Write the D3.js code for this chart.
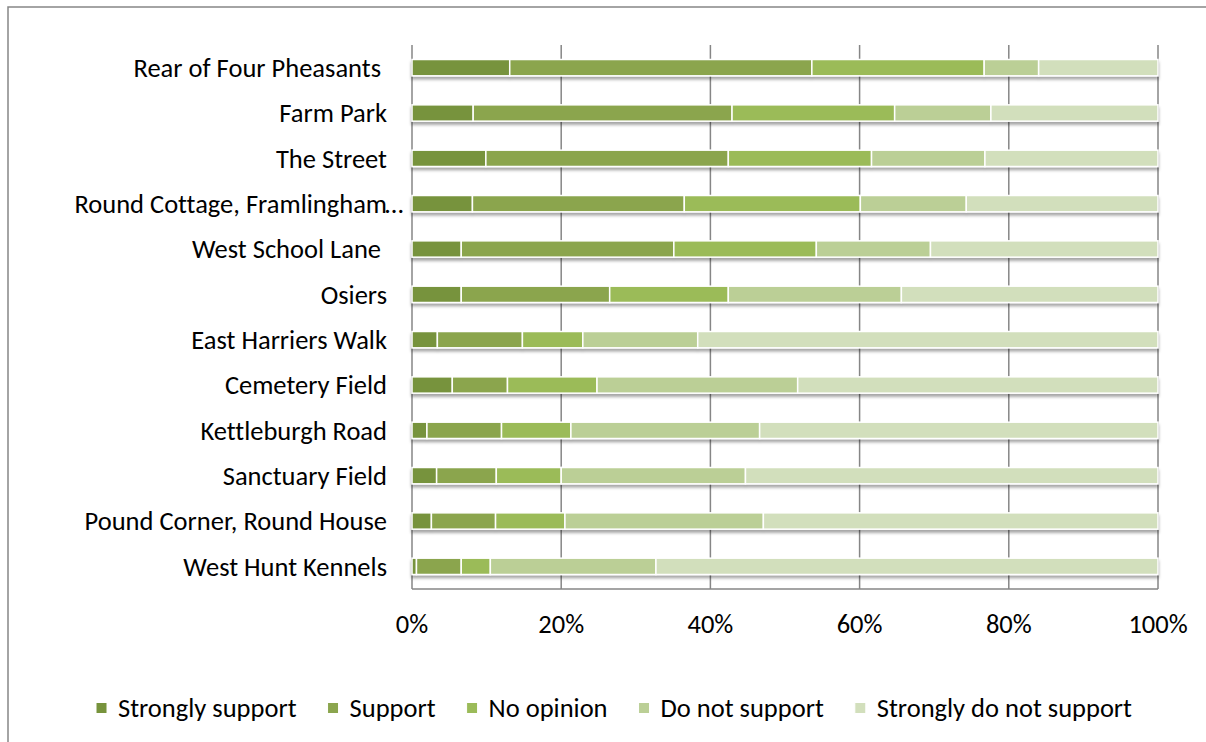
<!DOCTYPE html>
<html>
<head>
<meta charset="utf-8">
<script src="https://cdn.jsdelivr.net/npm/d3@7"></script>
<style>
  html, body { margin: 0; padding: 0; background: #fff; }
  svg { display: block; }
  text { font-family: Carlito, Calibri, Lato, sans-serif; fill: #000; font-variant-ligatures: none; }
</style>
</head>
<body>
<svg id="chart" width="1206" height="742"></svg>
<script>
// Survey responses per site, percent of respondents
const sites = [
  "Rear of Four Pheasants ",
  "Farm Park",
  "The Street",
  "Round Cottage, Framlingham…",
  "West School Lane ",
  "Osiers",
  "East Harriers Walk",
  "Cemetery Field",
  "Kettleburgh Road",
  "Sanctuary Field",
  "Pound Corner, Round House",
  "West Hunt Kennels"
];
const responses = ["Strongly support", "Support", "No opinion", "Do not support", "Strongly do not support"];
const stronglySupport    = [13.1,  8.2,  9.9,  8.1,  6.6,  6.6,  3.4,  5.4,  2.0,  3.3,  2.6,  0.6];
const support            = [40.5, 34.7, 32.5, 28.4, 28.5, 19.9, 11.4,  7.4, 10.0,  8.0,  8.6,  6.0];
const noOpinion          = [23.1, 21.8, 19.2, 23.6, 19.1, 15.9,  8.1, 12.0,  9.3,  8.7,  9.3,  3.9];
const doNotSupport       = [ 7.3, 12.9, 15.2, 14.2, 15.3, 23.2, 15.4, 26.9, 25.3, 24.7, 26.6, 22.2];
const stronglyNotSupport = [16.0, 22.4, 23.2, 25.7, 30.5, 34.4, 61.7, 48.3, 53.4, 55.3, 52.9, 67.3];
const tickValues = [0, 0.2, 0.4, 0.6, 0.8, 1.0];
const palette = ["#77933c", "#8ba54e", "#9bbb59", "#bbcf96", "#d2dfbc"];

const seriesValues = [stronglySupport, support, noOpinion, doNotSupport, stronglyNotSupport];
const rows = sites.map((site, i) => {
  const row = { site };
  responses.forEach((r, k) => { row[r] = seriesValues[k][i]; });
  return row;
});

const svg = d3.select("#chart");
const plot = { left: 412, right: 1158, top: 45, bottom: 589 };
const fontSize = 26.5;
const gridColor = "#868686";

// outer chart frame
svg.append("rect")
  .attr("x", 8).attr("y", 7)
  .attr("width", 1230).attr("height", 760)
  .attr("fill", "none").attr("stroke", gridColor).attr("stroke-width", 1.5);

const defs = svg.append("defs");
const shadow = defs.append("filter").attr("id", "barShadow")
  .attr("x", "-2%").attr("y", "-40%").attr("width", "104%").attr("height", "200%");
shadow.append("feDropShadow")
  .attr("dx", 0).attr("dy", 3).attr("stdDeviation", 1.6)
  .attr("flood-color", "#000").attr("flood-opacity", 0.35);

const x = d3.scaleLinear().domain([0, 1]).range([plot.left, plot.right]);
const y = d3.scaleBand().domain(sites).range([plot.top, plot.bottom])
  .paddingInner(0.64).paddingOuter(0.32);

// vertical gridlines
svg.append("g").selectAll("line")
  .data(tickValues.slice(1))
  .join("line")
  .attr("x1", d => x(d)).attr("x2", d => x(d))
  .attr("y1", plot.top).attr("y2", plot.bottom)
  .attr("stroke", gridColor).attr("stroke-width", 1.5);

// axis lines
svg.append("line")
  .attr("x1", plot.left).attr("x2", plot.left)
  .attr("y1", plot.top).attr("y2", plot.bottom)
  .attr("stroke", gridColor).attr("stroke-width", 1.5);
svg.append("line")
  .attr("x1", plot.left).attr("x2", plot.right)
  .attr("y1", plot.bottom).attr("y2", plot.bottom)
  .attr("stroke", gridColor).attr("stroke-width", 1.5);

// stacked bars (normalised to 100%)
const stack = d3.stack().keys(responses).offset(d3.stackOffsetExpand);
const layers = stack(rows);

const rowGroups = svg.append("g").selectAll("g")
  .data(sites)
  .join("g")
  .attr("filter", "url(#barShadow)");

rowGroups.each(function(site, i) {
  d3.select(this).selectAll("rect")
    .data(layers.map((layer, k) => ({ seg: layer[i], k })))
    .join("rect")
    .attr("x", d => x(d.seg[0]))
    .attr("width", d => Math.max(0, x(d.seg[1]) - x(d.seg[0])))
    .attr("y", y(site))
    .attr("height", y.bandwidth())
    .attr("fill", d => palette[d.k])
    .attr("stroke", "#fff")
    .attr("stroke-width", 1.5);
});

// category labels
const labelX = 387;
const labels = svg.append("g");
sites.forEach(site => {
  const cy = y(site) + y.bandwidth() / 2;
  const trimmed = site.endsWith("…");
  labels.append("text")
    .attr("x", labelX)
    .attr("y", cy)
    .attr("dy", "0.35em")
    .attr("text-anchor", "end")
    .attr("font-size", fontSize)
    .style("white-space", "pre")
    .text(trimmed ? site.slice(0, -1) : site);
  if (trimmed) {
    labels.append("text")
      .attr("x", labelX - 2)
      .attr("y", cy)
      .attr("dy", "0.35em")
      .attr("font-size", fontSize)
      .text("…");
  }
});

// percentage axis labels
const fmt = d3.format(".0%");
svg.append("g").selectAll("text")
  .data(tickValues)
  .join("text")
  .attr("x", d => x(d))
  .attr("y", 624)
  .attr("dy", "0.35em")
  .attr("text-anchor", "middle")
  .attr("font-size", fontSize)
  .text(d => fmt(d));

// legend
const legend = svg.append("g");
const legendY = 708;
const sq = 11, textGap = 11, itemGap = 31;
const items = responses.map((r, k) => {
  const g = legend.append("g");
  g.append("rect")
    .attr("y", legendY - sq / 2)
    .attr("width", sq).attr("height", sq)
    .attr("fill", palette[k])
    .attr("stroke", "#fff").attr("stroke-width", 1);
  const t = g.append("text")
    .attr("x", sq + textGap)
    .attr("y", legendY)
    .attr("dy", "0.35em")
    .attr("font-size", fontSize)
    .text(r);
  return { g, w: sq + textGap + t.node().getComputedTextLength() };
});
const totalW = d3.sum(items, d => d.w) + itemGap * (items.length - 1);
let cursor = 614 - totalW / 2;
items.forEach(it => {
  it.g.attr("transform", `translate(${cursor},0)`);
  cursor += it.w + itemGap;
});
</script>
</body>
</html>
